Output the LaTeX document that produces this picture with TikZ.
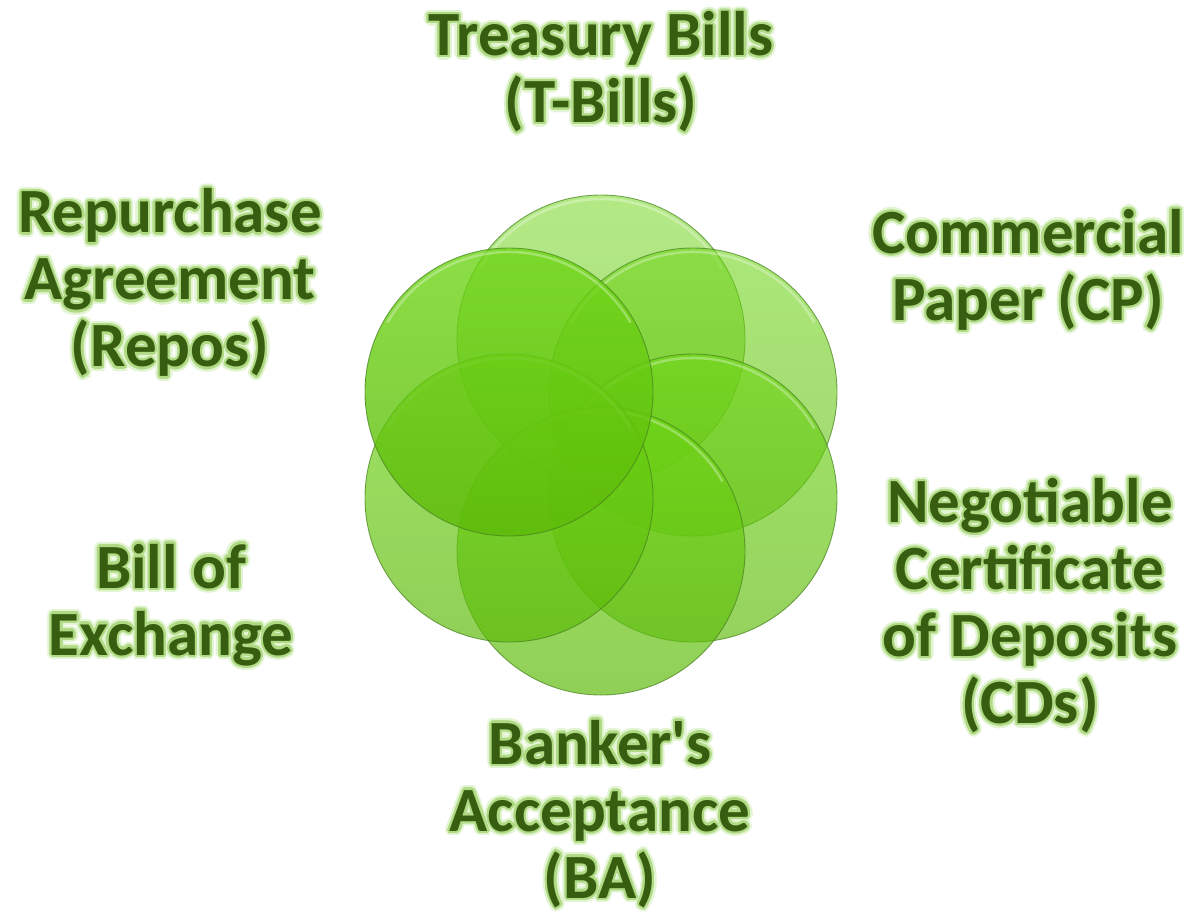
\documentclass[tikz,border=0pt]{standalone}
\usepackage{fontspec}
\setmainfont{Carlito}[Ligatures=TeXOff]
\usepackage[copies]{contour}
\definecolor{txtgreen}{RGB}{55,94,16}
\definecolor{glowA}{RGB}{226,244,210}
\definecolor{glowB}{RGB}{176,218,132}
\definecolor{cirtop}{RGB}{110,214,22}
\definecolor{cirbot}{RGB}{92,185,8}
\definecolor{cirline}{RGB}{70,128,30}
\newcommand{\gl}[1]{{\contourlength{4.5pt}\rlap{\contour{glowA}{\textcolor{glowA}{#1}}}}{\contourlength{2.2pt}\contour{glowB}{#1}}}
\tikzset{
  lbl/.style={font=\fontsize{63}{67}\selectfont\bfseries, align=center, text=txtgreen, inner sep=0pt},
  disc/.style={top color=cirtop, bottom color=cirbot, fill opacity=#1, draw=cirline, draw opacity=0.7, line width=0.9pt},
  hilite/.style={draw=white, draw opacity=0.3, line width=2.5pt, line cap=round}
}
\begin{document}
\begin{tikzpicture}[x=1pt,y=-1pt]
\useasboundingbox (0,0) rectangle (1193,914);
\coordinate (O) at (601,445);
\coordinate (cT) at (601,339);
\coordinate (cCP) at (693,392);
\coordinate (cCD) at (693,498);
\coordinate (cBA) at (601,551);
\coordinate (cBE) at (509,498);
\coordinate (cRP) at (509,392);
\foreach \c/\a in {cT/0.52,cCP/0.58,cCD/0.65,cBA/0.68,cBE/0.68,cRP/0.8}{
  \path[disc=\a] (\c) circle[radius=144pt];
  \draw[hilite] (\c) ++(150:140pt) arc[start angle=150, end angle=30, radius=140pt];
}
\node[lbl] (tb) at (601,74) {\gl{Treasury Bills}\\\gl{(T-Bills)}};
\node[lbl] (rp) at (170,285) {\gl{Repurchase}\\\gl{Agreement}\\\gl{(Repos)}};
\node[lbl] (cp) at (1028,272) {\gl{Commercial}\\\gl{Paper (CP)}};
\node[lbl] (cd) at (1030,608) {\gl{Negotiable}\\\gl{Certificate}\\\gl{of Deposits}\\\gl{(CDs)}};
\node[lbl] (be) at (171,607) {\gl{Bill of}\\\gl{Exchange}};
\node[lbl] (ba) at (600,816) {\gl{Banker's}\\\gl{Acceptance}\\\gl{(BA)}};
\end{tikzpicture}
\end{document}
